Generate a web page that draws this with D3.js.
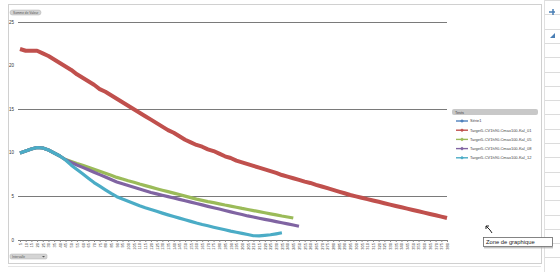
<!DOCTYPE html>
<html><head><meta charset="utf-8">
<script src="https://cdn.jsdelivr.net/npm/d3@7"></script>
<style>html,body{margin:0;padding:0;background:#fff;}svg{display:block;font-family:"Liberation Sans",Arial,sans-serif;}</style>
</head><body>
<svg id="c" width="560" height="272"></svg>
<script>
const categories = [5,10,15,20,25,30,35,40,45,50,55,60,65,70,75,80,85,90,95,100,105,110,115,120,125,130,135,140,145,150,155,160,165,170,175,180,185,190,195,200,205,210,215,220,225,230,235,240,245,250,255,260,265,270,275,280,285,290,295,300,305,310,315,320,325,330,335,340,345,350,355,360,365,370,375,380];
const serie1 = [9.98,10.21,10.44,10.61,10.55,10.32,9.98,9.63];
const kal01 = [21.9,21.7,21.7,21.7,21.4,21.1,20.7,20.3,19.9,19.5,19.0,18.6,18.2,17.8,17.3,17.0,16.6,16.2,15.8,15.4,15.0,14.6,14.2,13.8,13.4,13.0,12.6,12.3,11.9,11.5,11.2,10.9,10.7,10.4,10.2,9.9,9.6,9.4,9.1,8.9,8.7,8.5,8.3,8.1,7.9,7.7,7.45,7.26,7.08,6.9,6.7,6.54,6.33,6.14,5.94,5.75,5.55,5.36,5.16,5.0,4.84,4.69,4.53,4.38,4.22,4.06,3.9,3.75,3.6,3.44,3.29,3.14,2.98,2.83,2.68,2.52];
const kal05 = [9.98,10.21,10.44,10.61,10.55,10.32,9.98,9.63,9.23,9.0,8.77,8.56,8.33,8.1,7.88,7.65,7.43,7.18,7.0,6.8,6.62,6.42,6.24,6.06,5.88,5.71,5.55,5.38,5.21,5.03,4.86,4.69,4.54,4.4,4.28,4.15,4.01,3.89,3.76,3.62,3.5,3.37,3.25,3.13,3.0,2.88,2.75,2.64,2.52];
const kal08 = [9.98,10.21,10.44,10.61,10.55,10.32,9.98,9.63,9.2,8.89,8.6,8.33,8.05,7.78,7.5,7.22,6.94,6.66,6.46,6.26,6.06,5.85,5.65,5.45,5.29,5.13,4.98,4.82,4.66,4.5,4.34,4.19,4.03,3.86,3.7,3.55,3.39,3.23,3.07,2.92,2.76,2.64,2.5,2.37,2.25,2.11,1.98,1.85,1.72,1.58];
const kal12 = [9.98,10.21,10.44,10.61,10.55,10.32,9.98,9.63,9.17,8.58,8.08,7.59,7.09,6.59,6.17,5.76,5.34,4.97,4.7,4.45,4.19,3.92,3.7,3.5,3.29,3.08,2.88,2.69,2.51,2.33,2.14,1.95,1.78,1.63,1.47,1.32,1.17,1.02,0.89,0.76,0.63,0.49,0.48,0.54,0.6,0.71,0.83];
const yTicks = [0,5,10,15,20,25];
const gridValues = [5,15,25];
const seriesNames = ["Série1","Target5-CV1h90-Cmax100-Kal_01","Target5-CV1h90-Cmax100-Kal_05","Target5-CV1h90-Cmax100-Kal_08","Target5-CV1h90-Cmax100-Kal_12"];
const colors = ["#4F81BD","#C0504D","#9BBB59","#8064A2","#4BACC6"];
const seriesData = [serie1,kal01,kal05,kal08,kal12];

const svg = d3.select("#c");
svg.append("rect").attr("x",0).attr("y",0).attr("width",560).attr("height",272).attr("fill","#fff");
const g0 = svg.append("g").attr("stroke","#d0d0d0").attr("fill","none");
g0.append("line").attr("x1",8.5).attr("x2",8.5).attr("y1",4).attr("y2",264);
g0.append("line").attr("x1",8).attr("x2",541).attr("y1",4.5).attr("y2",4.5);
g0.append("line").attr("x1",541.5).attr("x2",541.5).attr("y1",4).attr("y2",264);
g0.append("line").attr("x1",8).attr("x2",541).attr("y1",263.5).attr("y2",263.5);
g0.append("line").attr("x1",8).attr("x2",541).attr("y1",266.5).attr("y2",266.5).attr("stroke","#e4e4e4");
const cellYs = d3.range(0,272,14.3);
svg.append("g").selectAll("line").data(cellYs).join("line")
  .attr("x1",544).attr("x2",560).attr("y1",d=>Math.round(d)+0.5).attr("y2",d=>Math.round(d)+0.5).attr("stroke","#dcdcdc");
svg.append("line").attr("x1",544.5).attr("x2",544.5).attr("y1",0).attr("y2",272).attr("stroke","#e0e0e0");
svg.append("path").attr("d","M549,12 h6 M553,9 v6").attr("stroke","#4a7fb5").attr("stroke-width",1.5);
svg.append("path").attr("d","M550,38 l5,-5 v5 z").attr("fill","#4a7fb5");

const x = d3.scalePoint().domain(categories).range([20,447]);
const y = d3.scaleLinear().domain([0,25]).range([240,22]);

svg.append("g").selectAll("line").data(gridValues).join("line")
  .attr("x1",18).attr("x2",447).attr("y1",d=>Math.round(y(d))+0.5).attr("y2",d=>Math.round(y(d))+0.5)
  .attr("stroke","#7a7a7a").attr("stroke-width",1);

svg.append("g").selectAll("text").data(yTicks).join("text")
  .attr("x",14).attr("y",d=>y(d)+1.5).attr("text-anchor","end").attr("font-size",4.5).attr("fill","#333")
  .text(d=>d);

const xAxis = svg.append("g").attr("transform","translate(0,240)")
  .call(d3.axisBottom(x).tickSize(2).tickSizeOuter(0));
xAxis.select(".domain").attr("stroke","#7a7a7a").attr("d","M18,0.5H447");
xAxis.selectAll(".tick line").attr("stroke","#8a8a8a");
xAxis.selectAll(".tick text").attr("font-size",4).attr("fill","#333")
  .attr("transform","rotate(-90)").attr("text-anchor","end").attr("x",-3).attr("y",0).attr("dy","0.35em");

const line = d3.line().x((d,i)=>x(categories[i])).y(d=>y(d));
const order = [0,1,2,3,4];
const widths = [3,4,3.2,3.2,3.2];
svg.append("g").selectAll("path").data(order).join("path")
  .attr("d",k=>line(seriesData[k])).attr("fill","none")
  .attr("stroke",k=>colors[k]).attr("stroke-width",k=>widths[k]).attr("stroke-linejoin","round");

const lg = svg.append("g");
lg.append("rect").attr("x",452).attr("y",109).attr("width",86).attr("height",6).attr("rx",2).attr("fill","#c8c8c8");
lg.append("text").attr("x",455).attr("y",113.6).attr("font-size",3.8).attr("fill","#444").text("Tests");
seriesNames.forEach((n,i)=>{
  const yy = 121 + i*9.2;
  lg.append("line").attr("x1",456).attr("x2",468).attr("y1",yy).attr("y2",yy).attr("stroke",colors[i]).attr("stroke-width",1.4);
  lg.append("path").attr("d",`M460,${yy} l2,-1.8 l2,1.8 l-2,1.8 z`).attr("fill",colors[i]);
  lg.append("text").attr("x",470).attr("y",yy+1.4).attr("font-size",4).attr("fill","#444").text(n);
});

svg.append("rect").attr("x",10).attr("y",10).attr("width",31).attr("height",5).attr("rx",2.5).attr("fill","#d4d4d4").attr("stroke","#b0b0b0").attr("stroke-width",0.5);
svg.append("text").attr("x",13).attr("y",13.8).attr("font-size",3.2).attr("fill","#555").text("Somme de Valeur");
svg.append("rect").attr("x",10).attr("y",254).attr("width",37).attr("height",5).attr("rx",1.5).attr("fill","#d4d4d4").attr("stroke","#b0b0b0").attr("stroke-width",0.5);
svg.append("text").attr("x",12).attr("y",257.8).attr("font-size",3.2).attr("fill","#555").text("Intervalle");
svg.append("path").attr("d","M42,256 h3 l-1.5,1.6 z").attr("fill","#555");

svg.append("path").attr("d","M486,226 l4,4 M486,226 h3 M486,226 v3 M490,230 l2,3").attr("stroke","#222").attr("stroke-width",1).attr("fill","none");
svg.append("rect").attr("x",483.5).attr("y",237.5).attr("width",69).attr("height",9).attr("fill","#fff").attr("stroke","#666").attr("stroke-width",0.8);
svg.append("line").attr("x1",484).attr("x2",553).attr("y1",247.8).attr("y2",247.8).attr("stroke","#aaa");
svg.append("text").attr("x",486).attr("y",244.2).attr("font-size",5.8).attr("fill","#222").text("Zone de graphique");
</script>
</body></html>
